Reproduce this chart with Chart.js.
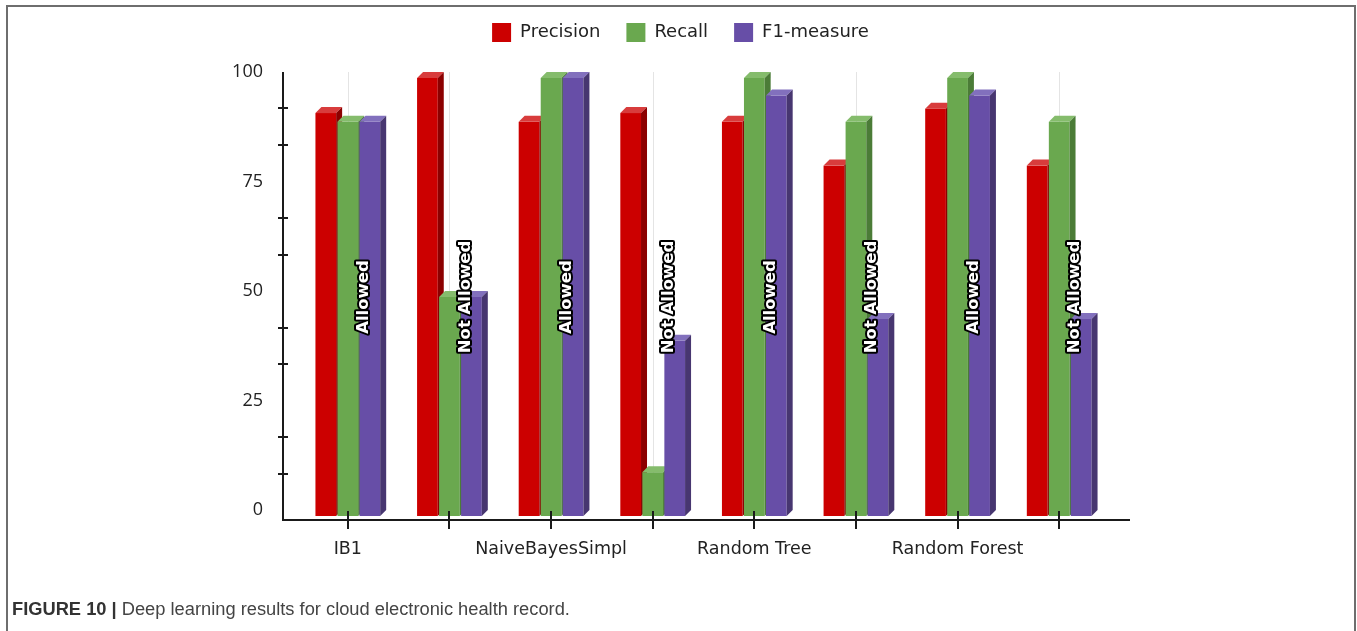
<!DOCTYPE html>
<html>
<head>
<meta charset="utf-8">
<script src="https://cdn.jsdelivr.net/npm/chart.js@4"></script>
<style>
  body { margin: 0; background: #fff; width: 1357px; height: 631px; overflow: hidden; position: relative; }
  #chart { position: absolute; left: 0; top: 0; }
  .frame { position: absolute; left: 6px; top: 5px; width: 1346px; height: 700px;
           border: 2px solid #6e6e6e; border-bottom: none; pointer-events: none; }
  .caption { position: absolute; left: 12px; top: 598px; font: 18.3px "Liberation Sans", Arial, sans-serif; color: #444; }
  .caption b { color: #333; }
</style>
</head>
<body>
<canvas id="chart" width="1357" height="590"></canvas>
<div class="frame"></div>
<div class="caption"><b>FIGURE 10 |</b> Deep learning results for cloud electronic health record.</div>
<script>
const methods = ["IB1", "NaiveBayesSimpl", "Random Tree", "Random Forest"];
const access = ["Allowed", "Not Allowed", "Allowed", "Not Allowed", "Allowed", "Not Allowed", "Allowed", "Not Allowed"];
const precision = [92, 100, 90, 92, 90, 80, 93, 80];
const recall = [90, 50, 100, 10, 100, 90, 100, 90];
const f1 = [90, 50, 100, 40, 96, 45, 96, 45];

// every method appears twice: once allowed, once not allowed
const categories = methods.flatMap(m => [m, m]);

const DEPTH = 6;
const LEGEND_SHIFT = 17;
const faces = {
    "#cc0000": {top: "#d83c3c", side: "#8c0000"},
    "#6aa84f": {top: "#85bc6c", side: "#4b7c37"},
    "#674ea7": {top: "#8270bd", side: "#473670"}
};
const axisFont = "'DejaVu Sans', sans-serif";

function path(ctx, pts, color) {
    ctx.beginPath();
    ctx.moveTo(pts[0][0], pts[0][1]);
    pts.slice(1).forEach(p => ctx.lineTo(p[0], p[1]));
    ctx.closePath();
    ctx.fillStyle = color;
    ctx.fill();
}

const bars3d = {
    id: "bars3d",
    afterInit(chart) {
        // fixed legend band so the plot starts at the same place,
        // and the legend row nudged right to sit over the whole figure
        const legend = chart.legend;
        const fit = legend.fit, draw = legend.draw;
        legend.fit = function () {
            fit.call(this);
            this.height = 81;
        };
        legend.draw = function () {
            chart.ctx.save();
            chart.ctx.translate(LEGEND_SHIFT, 0);
            draw.call(this);
            chart.ctx.restore();
        };
    },
    beforeDatasetsDraw(chart) {
        const ctx = chart.ctx;
        const xs = chart.scales.x, area = chart.chartArea;
        ctx.save();

        // light vertical grid at each category
        ctx.strokeStyle = "#e4e4e4";
        ctx.lineWidth = 1;
        categories.forEach((c, i) => {
            const x = Math.round(xs.getPixelForValue(i)) + 0.5;
            ctx.beginPath();
            ctx.moveTo(x, area.top - DEPTH);
            ctx.lineTo(x, area.bottom);
            ctx.stroke();
        });

        // bars drawn category by category so each front covers its neighbour's side
        const metas = chart.data.datasets.map((ds, d) => chart.getDatasetMeta(d));
        categories.forEach((c, i) => {
            metas.forEach((meta, d) => {
                const color = chart.data.datasets[d].backgroundColor;
                const {x, y, base, width} = meta.data[i].getProps(["x", "y", "base", "width"], true);
                const x0 = x - width / 2, x1 = x + width / 2;
                ctx.fillStyle = color;
                ctx.fillRect(x0, y, width, base - y);
                path(ctx, [[x0, y], [x0 + DEPTH, y - DEPTH], [x1 + DEPTH, y - DEPTH], [x1, y]], faces[color].top);
                path(ctx, [[x1, y], [x1 + DEPTH, y - DEPTH], [x1 + DEPTH, base - DEPTH], [x1, base]], faces[color].side);
            });
        });
        ctx.restore();
        return false;
    },
    afterDraw(chart) {
        const ctx = chart.ctx;
        const xs = chart.scales.x, ys = chart.scales.y, area = chart.chartArea;
        const ax = 283, ay = area.bottom + 4;
        ctx.save();
        ctx.strokeStyle = "#1a1a1a";
        ctx.lineWidth = 2;
        ctx.beginPath();
        ctx.moveTo(ax, ys.getPixelForValue(100) - DEPTH);
        ctx.lineTo(ax, ay);
        ctx.lineTo(1130, ay);
        ctx.stroke();

        // minor ticks between the labelled values
        ctx.beginPath();
        for (let k = 1; k < 12; k++) {
            if (k % 3 === 0) continue;
            const y = Math.round(ys.getPixelForValue(k * 25 / 3) - DEPTH);
            ctx.moveTo(ax - 5, y);
            ctx.lineTo(ax + 5, y);
        }
        categories.forEach((c, i) => {
            const x = Math.round(xs.getPixelForValue(i));
            ctx.moveTo(x, ay - 9);
            ctx.lineTo(x, ay + 9);
        });
        ctx.stroke();

        // access labels, outlined white text standing upright
        ctx.font = "bold 16.5px " + axisFont;
        ctx.textAlign = "center";
        ctx.textBaseline = "middle";
        ctx.lineJoin = "round";
        ctx.lineWidth = 4;
        access.forEach((txt, i) => {
            ctx.save();
            ctx.translate(xs.getPixelForValue(i) + 16, ys.getPixelForValue(50));
            ctx.rotate(-Math.PI / 2);
            ctx.strokeStyle = "#000";
            ctx.strokeText(txt, 0, 0);
            ctx.fillStyle = "#fff";
            ctx.fillText(txt, 0, 0);
            ctx.restore();
        });
        ctx.restore();
    }
};

new Chart("chart", {
    type: "bar",
    data: {
        labels: categories,
        datasets: [
            {label: "Precision", data: precision, backgroundColor: "#cc0000"},
            {label: "Recall", data: recall, backgroundColor: "#6aa84f"},
            {label: "F1-measure", data: f1, backgroundColor: "#674ea7"}
        ]
    },
    options: {
        responsive: false,
        animation: false,
        categoryPercentage: 0.65,
        barPercentage: 0.94,
        layout: {padding: {left: 217, right: 247, top: -3, bottom: 14}},
        plugins: {
            legend: {
                position: "top",
                labels: {
                    boxWidth: 19,
                    boxHeight: 19,
                    padding: 26,
                    color: "#222",
                    font: {family: axisFont, size: 18}
                }
            },
            tooltip: {enabled: false}
        },
        scales: {
            x: {
                grid: {display: false},
                border: {display: false},
                afterFit: s => { s.height = 60; },
                ticks: {
                    autoSkip: false,
                    maxRotation: 0,
                    padding: 15,
                    color: "#222",
                    font: {family: axisFont, size: 17.5},
                    callback: (v, i) => i % 2 === 0 ? categories[i] : ""
                }
            },
            y: {
                min: 0,
                max: 100,
                grid: {display: false, drawTicks: false},
                border: {display: false},
                afterFit: s => { s.width = 80; },
                ticks: {
                    stepSize: 25,
                    padding: 34,
                    labelOffset: -DEPTH,
                    color: "#222",
                    font: {family: "'Open Sans', sans-serif", size: 18}
                }
            }
        }
    },
    plugins: [bars3d]
});
</script>
</body>
</html>
